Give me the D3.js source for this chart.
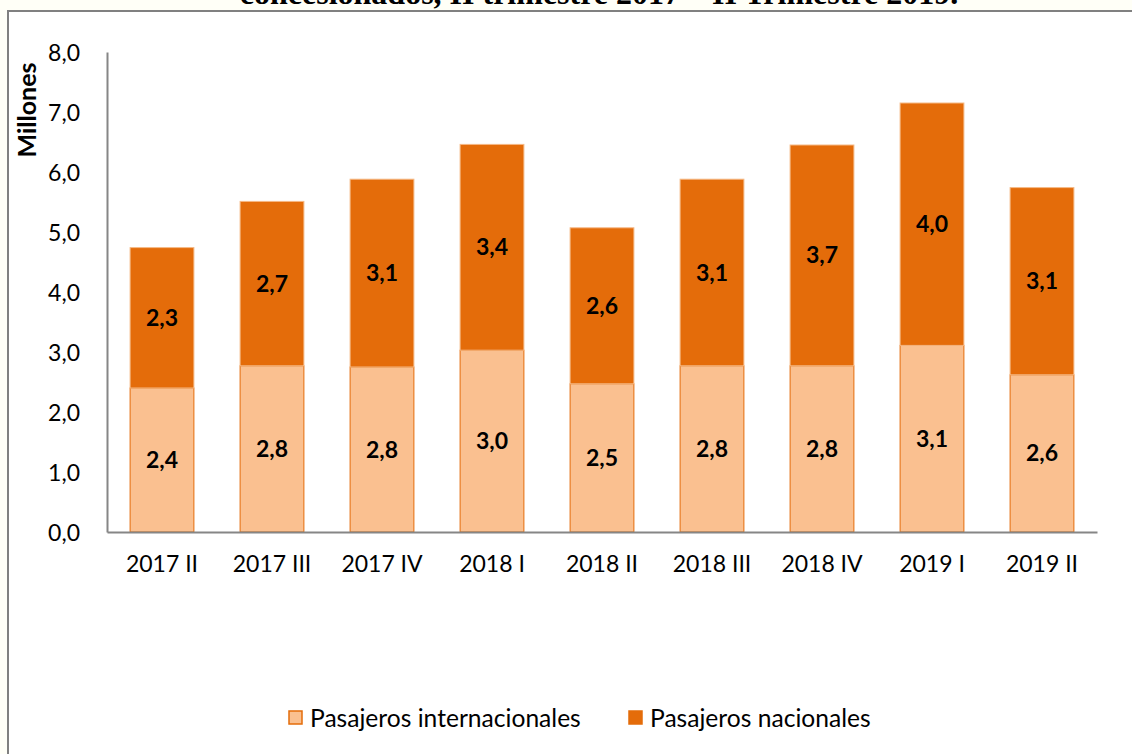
<!DOCTYPE html>
<html>
<head>
<meta charset="utf-8">
<script src="https://cdn.jsdelivr.net/npm/d3@7"></script>
<style>
  body { margin: 0; background: #fffff7; }
  svg { display: block; }
</style>
</head>
<body>
<svg width="1132" height="754"></svg>
<script>
// data
const quarters = ["2017 II", "2017 III", "2017 IV", "2018 I", "2018 II", "2018 III", "2018 IV", "2019 I", "2019 II"];
const internacionales = [2.40, 2.77, 2.75, 3.03, 2.47, 2.77, 2.77, 3.11, 2.62];
const nacionales = [2.34, 2.74, 3.13, 3.43, 2.60, 3.11, 3.68, 4.04, 3.12];
const yTicks = [0, 1, 2, 3, 4, 5, 6, 7, 8];
const seriesNames = ["Pasajeros internacionales", "Pasajeros nacionales"];

const DARK = "#e46c0a";
const LIGHT = "#fac090";
const AXIS = "#868686";
const FONT = "Lato, 'Open Sans', sans-serif";

const svg = d3.select("svg");

// frame: cream outside, white inside
svg.append("rect").attr("x", 0).attr("y", 0).attr("width", 1132).attr("height", 754).attr("fill", "#fffff7");
svg.append("rect").attr("x", 8).attr("y", 11).attr("width", 1140).attr("height", 760)
  .attr("fill", "white").attr("stroke", "#808080").attr("stroke-width", 2);

// clipped title (only its lower part shows above the frame)
svg.append("text")
  .attr("x", 599).attr("y", 4)
  .attr("text-anchor", "middle")
  .attr("font-family", "'Liberation Serif', 'Times New Roman', serif")
  .attr("font-weight", "bold")
  .attr("font-size", 32)
  .text("concesionados, II trimestre 2017 – II Trimestre 2019.");

const margin = { left: 107, right: 1097, top: 52, bottom: 532 };

const x = d3.scaleBand().domain(quarters).range([margin.left, margin.right]).paddingInner(0.42).paddingOuter(0.21);
const y = d3.scaleLinear().domain([0, 8]).range([margin.bottom, margin.top]);

const rows = quarters.map((q, i) => ({ q, intl: internacionales[i], nac: nacionales[i] }));
const stack = d3.stack().keys(["intl", "nac"])(rows);

const g = svg.append("g");
stack.forEach((layer, li) => {
  g.selectAll(null)
    .data(layer)
    .enter()
    .append("rect")
    .attr("x", d => x(d.data.q))
    .attr("width", x.bandwidth())
    .attr("y", d => y(d[1]))
    .attr("height", d => y(d[0]) - y(d[1]))
    .attr("fill", li === 0 ? LIGHT : DARK)
    .attr("stroke", li === 0 ? DARK : "#f6b985")
    .attr("stroke-width", 1);

  g.selectAll(null)
    .data(layer)
    .enter()
    .append("text")
    .attr("x", d => x(d.data.q) + x.bandwidth() / 2)
    .attr("y", d => (y(d[0]) + y(d[1])) / 2 + 8)
    .attr("text-anchor", "middle")
    .attr("font-family", FONT)
    .attr("font-weight", "bold")
    .attr("font-size", 23)
    .attr("fill", "black")
    .text(d => d3.format(".1f")(d[1] - d[0]).replace(".", ","));
});

// y axis
const yAxis = svg.append("g").attr("transform", `translate(${margin.left},0)`)
  .call(d3.axisLeft(y).tickValues(yTicks).tickSize(0).tickPadding(27).tickFormat(d => d3.format(".1f")(d).replace(".", ",")));
yAxis.select(".domain").attr("stroke", AXIS).attr("stroke-width", 2);
yAxis.selectAll("text").attr("font-family", FONT).attr("font-size", 23).attr("fill", "black").attr("dy", "0.35em");

// x axis
const xAxis = svg.append("g").attr("transform", `translate(0,${margin.bottom})`)
  .call(d3.axisBottom(x).tickSize(0).tickPadding(24).tickSizeOuter(0));
xAxis.select(".domain").attr("stroke", AXIS).attr("stroke-width", 2);
xAxis.selectAll("text").attr("font-family", FONT).attr("font-size", 23).attr("fill", "black");

// y title
svg.append("text")
  .attr("transform", "translate(36,110) rotate(-90)")
  .attr("text-anchor", "middle")
  .attr("font-family", FONT)
  .attr("font-weight", "bold")
  .attr("font-size", 25)
  .text("Millones");

// legend
const legendX = [289, 629];
seriesNames.forEach((name, i) => {
  svg.append("rect")
    .attr("x", legendX[i]).attr("y", 711).attr("width", 13).attr("height", 13)
    .attr("fill", i === 0 ? LIGHT : DARK)
    .attr("stroke", DARK).attr("stroke-width", 1.5);
  svg.append("text")
    .attr("x", legendX[i] + 21).attr("y", 727)
    .attr("font-family", FONT).attr("font-size", 24.6).attr("fill", "black")
    .text(name);
});
</script>
</body>
</html>
